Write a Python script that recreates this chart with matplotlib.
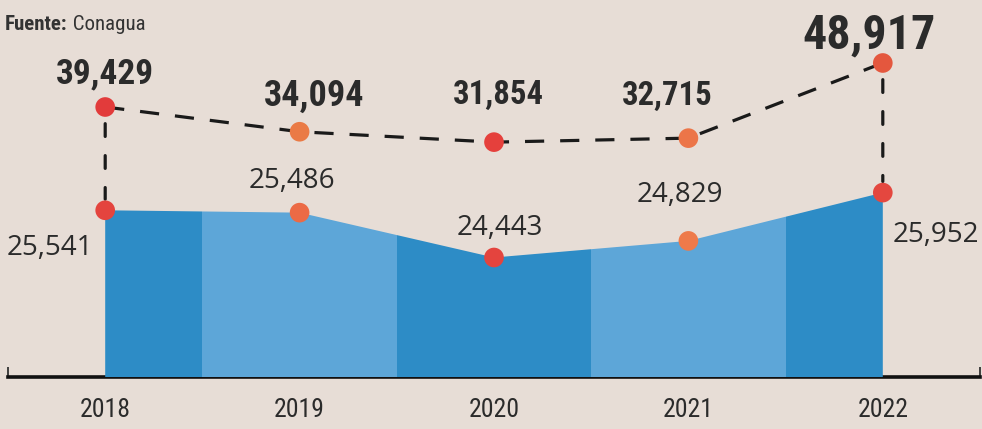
import matplotlib
matplotlib.use('Agg')
import matplotlib.pyplot as plt
from matplotlib import font_manager
from matplotlib.patches import ConnectionPatch

# ---- data ----
years = ['2018', '2019', '2020', '2021', '2022']
total = [39429, 34094, 31854, 32715, 48917]
lower = [25541, 25486, 24443, 24829, 25952]
total_labels = ['39,429', '34,094', '31,854', '32,715', '48,917']
lower_labels = ['25,541', '25,486', '24,443', '24,829', '25,952']
source_bold = 'Fuente:'
source_name = 'Conagua'


def pick(*fams):
    for f in fams:
        try:
            font_manager.findfont(font_manager.FontProperties(family=f), fallback_to_default=False)
            return f
        except Exception:
            continue
    return 'DejaVu Sans'


NARROW = pick('Liberation Sans Narrow', 'Roboto Condensed', 'DejaVu Sans')
REG = pick('Open Sans', 'Noto Sans', 'DejaVu Sans')

W, H = 982, 429
fig = plt.figure(figsize=(W / 100, H / 100), dpi=100)
bg = '#e7ddd6'
fig.patch.set_facecolor(bg)

ax = fig.add_axes([8 / W, 52 / H, 972 / W, 377 / H])
ax.set_facecolor('none')
x = list(range(len(years)))
ax.set_xlim(-0.5, len(years) - 0.5)
ax.set_ylim(-18783, 62498)

ax2 = ax.twinx()
ax2.set_ylim(21664, 30431)
ax2.set_yticks([])
for s in ax2.spines.values():
    s.set_visible(False)

# area with alternating column colours
poly = ax2.fill_between(x, lower, ax2.get_ylim()[0], color='none', lw=0)
clip_path = poly.get_paths()[0]
col_colors = ['#2d8cc6', '#5da6d8']
for i in x:
    span = ax2.axvspan(i - 0.5, i + 0.5, color=col_colors[i % 2], lw=0, zorder=1)
    span.set_clip_path(clip_path, ax2.transData)

# upper dashed line
ax.plot(x, total, color='#1a1a1a', lw=2.3, dashes=(6, 5), zorder=2)

up_colors = ['#e23b3b', '#ea7a45', '#e5403c', '#ec7548', '#e4573e']
lo_colors = ['#e4443e', '#ec6a45', '#e4443e', '#ee7a4a', '#e4473f']

# vertical dashed connectors at first and last year
for i in (0, len(years) - 1):
    cp = ConnectionPatch(xyA=(x[i], total[i]), coordsA=ax.transData,
                         xyB=(x[i], lower[i]), coordsB=ax2.transData,
                         color='#1a1a1a', lw=2.3, linestyle=(0, (4, 6)),
                         shrinkA=12, shrinkB=8, zorder=2)
    ax2.add_artist(cp)

ax2.scatter(x, lower, s=200, c=lo_colors, zorder=4, lw=0)
ax.scatter(x, total, s=200, c=up_colors, zorder=4, lw=0)

# upper labels
up_off = [(0, 24), (15, 26), (4, 38), (-21, 33), (-14, 15)]
up_size = [25.5, 26, 23.5, 23.5, 34.5]
for i in x:
    ax2.annotate(total_labels[i], xy=(x[i], total[i]), xycoords=ax.transData,
                 xytext=up_off[i], textcoords='offset pixels', ha='center', va='baseline',
                 fontsize=up_size[i], fontweight='bold', family=NARROW, color='#2b2b2b',
                 zorder=6)

# lower labels
lo_off = [(-12, -45), (-8, 25), (6, 22), (-9, 39), (10, -49)]
lo_ha = ['right', 'center', 'center', 'center', 'left']
for i in x:
    ax2.annotate(lower_labels[i], xy=(x[i], lower[i]), xytext=lo_off[i],
                 textcoords='offset pixels', ha=lo_ha[i], va='baseline',
                 fontsize=20, family=REG, color='#2b2b2b', zorder=6)

# axis styling
for k in ('top', 'left', 'right'):
    ax.spines[k].set_visible(False)
ax.spines['bottom'].set_linewidth(2.6)
ax.spines['bottom'].set_color('#111111')
ax.spines['bottom'].set_zorder(5)
ax.set_yticks([])
ax.set_xticks(x)
ax.set_xticklabels(years, family=NARROW, fontsize=18.5, color='#2b2b2b')
ax.tick_params(axis='x', which='major', length=0, pad=15)
ax.set_xticks([i - 0.5 for i in range(len(years) + 1)], minor=True)
ax.tick_params(axis='x', which='minor', direction='in', length=7, width=1.3, color='#333333')

# source
t1 = fig.text(5 / W, 1 - 30 / H, source_bold, family=NARROW, fontweight='bold',
              fontsize=15, color='#333333', va='baseline')
fig.canvas.draw()
ax.annotate(' ' + source_name, xy=(1, 0), xycoords=t1, xytext=(0, 0),
            textcoords='offset pixels', va='bottom', ha='left',
            family=NARROW, fontsize=15, color='#333333', annotation_clip=False)

fig.savefig('out.png', dpi=100, facecolor=bg)
